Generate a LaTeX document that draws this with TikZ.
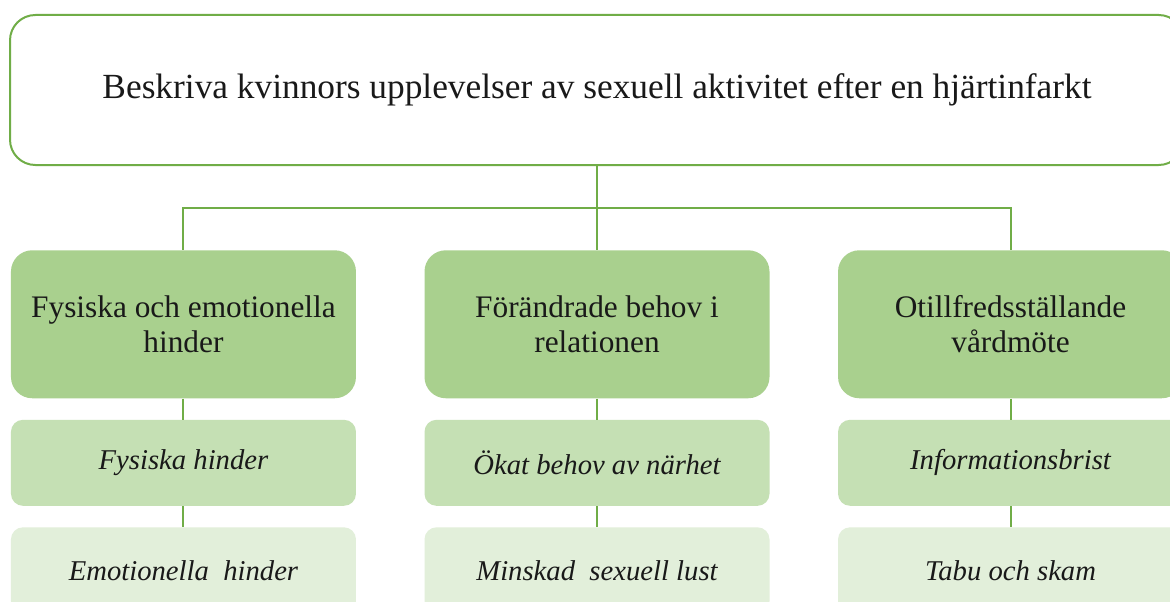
\documentclass[tikz,border=0pt]{standalone}
\usepackage{fontspec}
\setmainfont{Liberation Serif}
\usetikzlibrary{positioning}
\definecolor{linegreen}{RGB}{112,173,71}
\definecolor{boxdark}{RGB}{169,208,142}
\definecolor{boxmid}{RGB}{197,224,180}
\definecolor{boxlight}{RGB}{226,239,218}
\definecolor{txt}{RGB}{25,25,25}
\tikzset{
  basebox/.style={rectangle,inner sep=0pt,align=center,text=txt},
  topnode/.style={basebox,draw=linegreen,line width=1.5pt,fill=white,rounded corners=19pt,
                  minimum width=880.5pt,minimum height=112.5pt,font=\fontsize{26.5}{30}\selectfont},
  catnode/.style={basebox,fill=boxdark,rounded corners=16pt,minimum width=258.75pt,minimum height=111pt,
                  font=\fontsize{23.5}{26}\selectfont},
  subnode/.style={basebox,fill=boxmid,rounded corners=9pt,minimum width=258.75pt,minimum height=64.5pt,
                  font=\fontsize{21.5}{24}\selectfont\itshape},
  lightnode/.style={subnode,fill=boxlight},
  link/.style={draw=linegreen,line width=1.5pt}
}

\begin{document}
\begin{tikzpicture}[x=0.75pt,y=0.75pt,node distance=15.75pt and 51pt]
  \clip (0,0) rectangle (1170,601);
  \fill[white] (0,0) rectangle (1170,601);

  \node[topnode] (top) at (597,511) {Beskriva kvinnors upplevelser av sexuell aktivitet efter en hjärtinfarkt};

  % huvudkategorier
  \node[catnode,below=63pt of top] (cat2) {Förändrade behov i\\relationen};
  \node[catnode,left=of cat2] (cat1) {Fysiska och emotionella\\hinder};
  \node[catnode,right=of cat2] (cat3) {Otillfredsställande\\vårdmöte};

  % underkategorier
  \node[subnode,below=of cat1] (sub1a) {Fysiska hinder};
  \node[lightnode,below=of sub1a] (sub1b) {Emotionella\ \ hinder};
  \node[subnode,below=of cat2] (sub2a) {Ökat behov av närhet};
  \node[lightnode,below=of sub2a] (sub2b) {Minskad\ \ sexuell lust};
  \node[subnode,below=of cat3] (sub3a) {Informationsbrist};
  \node[lightnode,below=of sub3a] (sub3b) {Tabu och skam};

  \draw[link] (top.south) -- ++(0,-42) coordinate (hub);
  \draw[link] (hub) -| (cat1.north);
  \draw[link] (hub) -| (cat3.north);
  \draw[link] (hub) -- (cat2.north);
  \foreach \c in {1,2,3}{
    \draw[link] (cat\c.south) -- (sub\c a.north);
    \draw[link] (sub\c a.south) -- (sub\c b.north);
  }
\end{tikzpicture}
\end{document}
